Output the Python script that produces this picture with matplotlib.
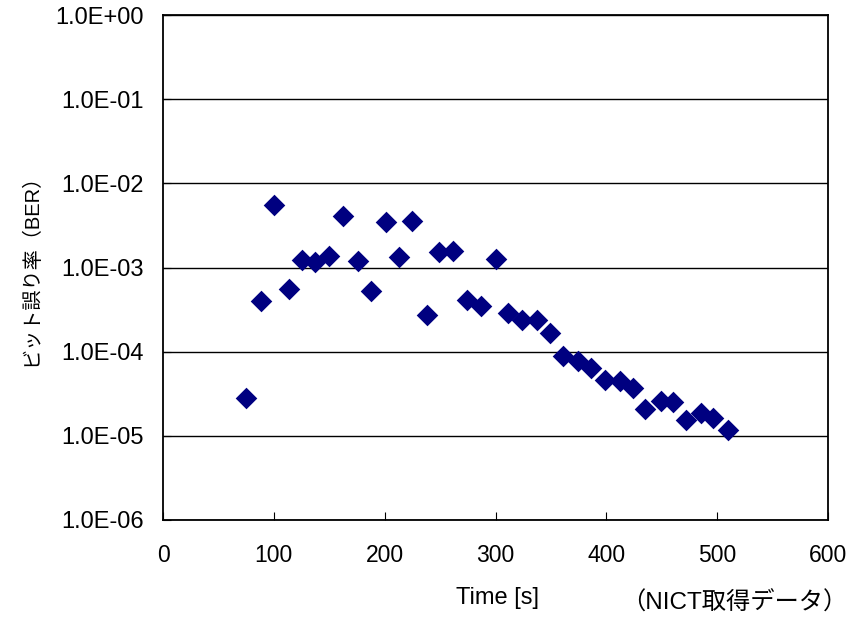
import matplotlib.pyplot as plt
import matplotlib.ticker as mticker
import numpy as np

# data
time_s = [75, 88, 100, 114, 125, 137, 150, 162, 176, 188, 201, 213,
          225, 238, 249, 262, 274, 287, 300, 311, 324, 337, 349, 361,
          374, 386, 399, 412, 424, 435, 449, 460, 472, 485, 496, 510]
ber = [2.8e-5, 4.0e-4, 5.5e-3, 5.6e-4, 1.23e-3, 1.16e-3, 1.37e-3, 4.1e-3,
       1.19e-3, 5.3e-4, 3.5e-3, 1.33e-3, 3.6e-3, 2.7e-4, 1.53e-3, 1.57e-3,
       4.1e-4, 3.5e-4, 1.26e-3, 2.9e-4, 2.4e-4, 2.4e-4, 1.67e-4, 8.9e-5,
       7.7e-5, 6.4e-5, 4.6e-5, 4.5e-5, 3.7e-5, 2.1e-5, 2.6e-5, 2.5e-5,
       1.54e-5, 1.87e-5, 1.63e-5, 1.17e-5]
x_ticks = [0, 100, 200, 300, 400, 500, 600]
y_ticks = [1e-6, 1e-5, 1e-4, 1e-3, 1e-2, 1e-1, 1e0]

plt.rcParams['font.family'] = ['Liberation Sans', 'Noto Sans CJK JP', 'DejaVu Sans']

fig = plt.figure(figsize=(8.52, 6.18), dpi=100)
ax = fig.add_axes([163/852, 1-520/618, 665/852, 505/618])

ax.scatter(time_s, ber, marker='D', s=11**2, color='#000080', zorder=3, linewidths=0)

ax.set_yscale('log')
ax.set_xlim(0, 600)
ax.set_ylim(1e-6, 1)
ax.set_xticks(x_ticks)
ax.set_yticks(y_ticks)
ax.yaxis.set_minor_locator(mticker.NullLocator())
ax.yaxis.set_major_formatter(mticker.FuncFormatter(lambda v, p: f"{v:.1E}"))
ax.grid(axis='y', color='black', linewidth=1)
ax.set_axisbelow(True)
for s in ax.spines.values():
    s.set_linewidth(1.3)
ax.tick_params(axis='x', direction='in', length=6, labelsize=16.5, pad=17)
ax.tick_params(axis='y', direction='in', length=6, labelsize=17, pad=14)

fig.text(31/852, 1-265/618, 'ビット誤り率（BER）', rotation=90, ha='center', va='center',
         fontsize=14.5)
fig.text(497/852, 1-598/618, 'Time [s]', ha='center', va='center', fontsize=17)
fig.text(734/852, 1-603/618, '（NICT取得データ）', ha='center', va='center', fontsize=17.5)

plt.savefig('out.png', dpi=100)
